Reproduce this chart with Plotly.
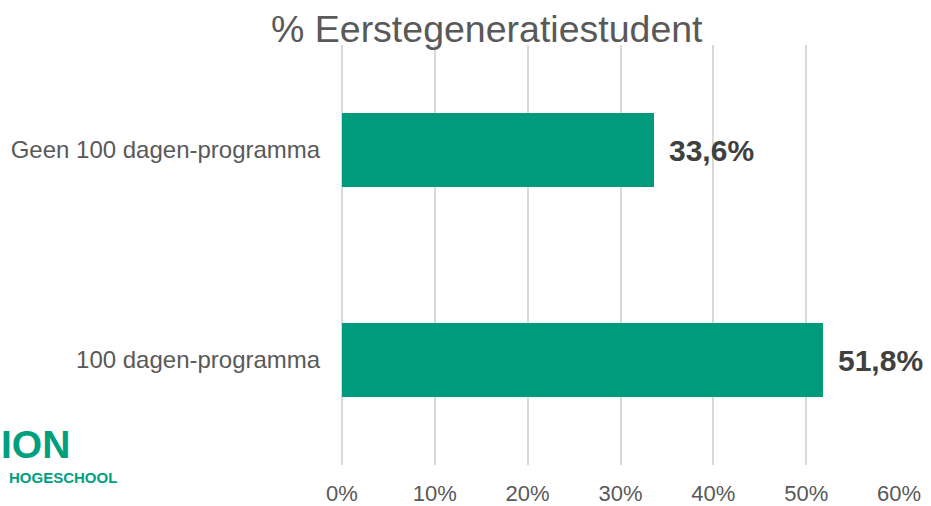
import plotly.graph_objects as go

# Share of first-generation students per group (percent)
categories = ["100 dagen-programma", "Geen 100 dagen-programma"]
values = [51.8, 33.6]
tick_values = [0, 10, 20, 30, 40, 50, 60]
tick_labels = ["0%", "10%", "20%", "30%", "40%", "50%", "60%"]
title_text = "% Eerstegeneratiestudent"

BAR = "#009B7D"
GRID = "#D9D9D9"
TEXT = "#595959"
LOGO = "#00A07E"
FONT = "Liberation Sans, Arial, sans-serif"

fig = go.Figure(
    go.Bar(
        x=values,
        y=categories,
        orientation="h",
        marker=dict(color=BAR, line=dict(width=0)),
        width=0.352,
        hoverinfo="skip",
    )
)

# Value labels at the end of each bar
for cat, val in zip(categories, values):
    fig.add_annotation(
        x=val, y=cat, xref="x", yref="y",
        text="<b>" + f"{val:.1f}".replace(".", ",") + "%</b>",
        showarrow=False, xanchor="left", yanchor="middle", xshift=13,
        font=dict(family=FONT, size=30, color="#404040"),
    )

# Title
fig.add_annotation(
    x=0.262, y=1.0, xref="paper", yref="paper",
    text=title_text, showarrow=False, xanchor="center", yanchor="middle",
    yshift=16,
    font=dict(family=FONT, size=37.5, color=TEXT),
)

# Logo text at the lower left
fig.add_annotation(
    x=0, y=0, xref="paper", yref="paper",
    text="<b>ION</b>", showarrow=False, xanchor="left", yanchor="middle",
    xshift=-342, yshift=21,
    font=dict(family=FONT, size=39, color=LOGO),
)
fig.add_annotation(
    x=0, y=0, xref="paper", yref="paper",
    text="<b>HOGESCHOOL</b>", showarrow=False, xanchor="left", yanchor="middle",
    xshift=-334, yshift=-12,
    font=dict(family=FONT, size=15, color=LOGO),
)

fig.update_layout(
    width=931, height=506,
    margin=dict(l=341, r=31, t=45, b=41),
    paper_bgcolor="white", plot_bgcolor="white",
    showlegend=False,
    font=dict(family=FONT, color=TEXT),
    bargap=0,
)
fig.update_xaxes(
    range=[-0.1, 60.1], tickvals=tick_values, ticktext=tick_labels,
    showgrid=True, gridcolor=GRID, gridwidth=2,
    zeroline=True, zerolinecolor=GRID, zerolinewidth=2, showline=False,
    ticks="outside", ticklen=9, tickcolor="rgba(0,0,0,0)",
    tickfont=dict(family=FONT, size=22, color=TEXT),
    automargin=False,
    fixedrange=True,
)
fig.update_yaxes(
    showgrid=False, zeroline=False, showline=False,
    ticks="outside", ticklen=15, tickcolor="rgba(0,0,0,0)",
    tickfont=dict(family=FONT, size=24, color=TEXT),
    automargin=False,
    fixedrange=True,
)

fig.write_html("out.html")
